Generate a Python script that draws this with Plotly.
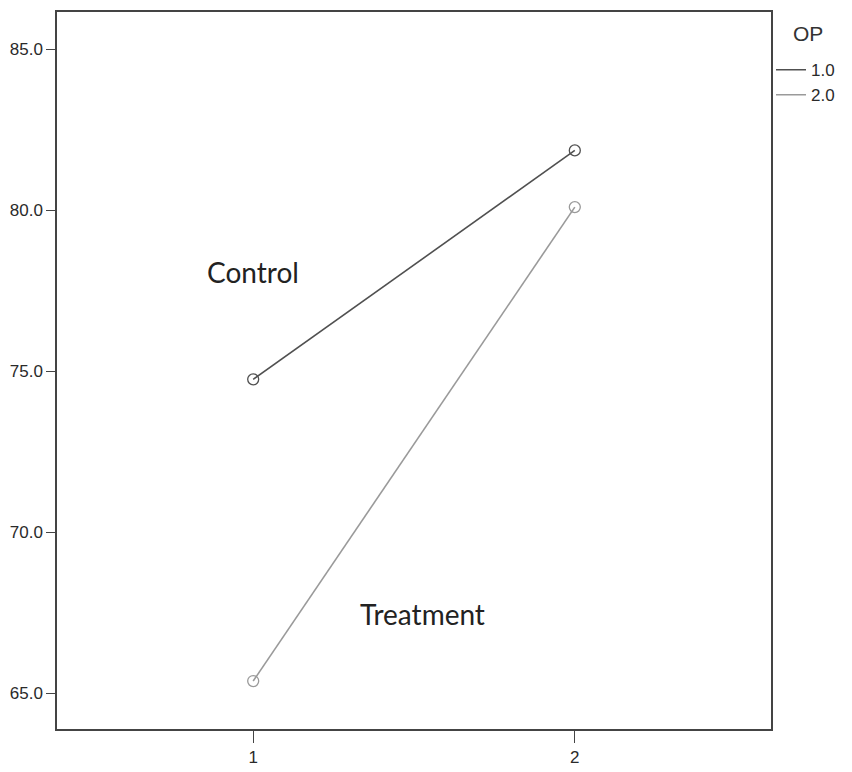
import plotly.graph_objects as go

times = [1, 2]
control = [74.75, 81.86]
treatment = [65.38, 80.1]
groups = ["1.0", "2.0"]
colors = ["#505050", "#9a9a9a"]

fig = go.Figure()

for name, ys, c in zip(groups, [control, treatment], colors):
    # line only in the legend
    fig.add_trace(go.Scatter(x=times, y=ys, mode="lines", name=name,
                             line=dict(color=c, width=1.6)))
    fig.add_trace(go.Scatter(x=times, y=ys, mode="markers", showlegend=False,
                             marker=dict(symbol="circle-open", size=11,
                                         color=c, line=dict(width=1.3))))

fig.add_annotation(x=1, y=78.1, text="Control", showarrow=False,
                   font=dict(size=28, color="#222", family="Lato"))
fig.add_annotation(x=1.525, y=67.45, text="Treatment", showarrow=False,
                   font=dict(size=28, color="#222", family="Lato"))
# legend title placed by hand
fig.add_annotation(x=1.052, y=0.97, xref="paper", yref="paper", text="OP",
                   showarrow=False, xanchor="center", yanchor="middle",
                   font=dict(size=21, color="#333"))

# page body has an 8px margin, so the figure is a bit smaller than the window
fig.update_layout(
    width=844, height=764,
    margin=dict(l=48, r=81, t=2, b=43),
    plot_bgcolor="white", paper_bgcolor="white",
    font=dict(family="Liberation Sans", size=17, color="#2a2a2a"),
    legend=dict(x=1.0, y=0.944, xanchor="left", yanchor="top",
                bgcolor="rgba(0,0,0,0)", font=dict(size=17),
                tracegroupgap=0),
    xaxis=dict(range=[0.39, 2.61], tickvals=[1, 2], ticktext=["1", "2"],
               showgrid=False, zeroline=False, showline=True, mirror=True,
               linecolor="#444", linewidth=1.5,
               ticks="outside", ticklen=12, tickcolor="#444"),
    yaxis=dict(range=[63.89, 86.16], tickvals=[65, 70, 75, 80, 85],
               tickformat=".1f",
               showgrid=False, zeroline=False, showline=True, mirror=True,
               linecolor="#444", linewidth=1.5,
               ticks="outside", ticklen=9, tickcolor="#444"),
)

fig.write_html("out.html")
